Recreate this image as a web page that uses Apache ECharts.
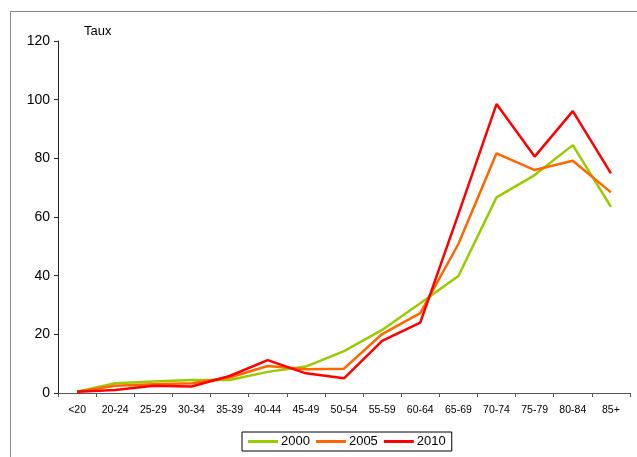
<!DOCTYPE html>
<html>
<head>
<meta charset="utf-8">
<script src="https://cdn.jsdelivr.net/npm/echarts@6/dist/echarts.min.js"></script>
<style>html,body{margin:0;padding:0;background:#fff}#c{width:637px;height:457px}</style>
</head>
<body>
<div id="c"></div>
<script>
var categories = ['<20','20-24','25-29','30-34','35-39','40-44','45-49','50-54','55-59','60-64','65-69','70-74','75-79','80-84','85+'];
var s2000 = [0.4, 3.3, 3.9, 4.4, 4.4, 7.2, 9.0, 14.3, 21.5, 30.6, 39.9, 66.7, 74.3, 84.5, 63.5];
var s2005 = [0.4, 2.5, 3.0, 3.3, 5.3, 9.2, 8.1, 8.3, 20.1, 27.2, 50.8, 81.7, 76.0, 79.2, 68.4];
var s2010 = [0.4, 1.0, 2.5, 2.2, 5.8, 11.2, 6.7, 5.0, 17.8, 24.0, 61.0, 98.5, 80.6, 96.1, 74.9];
var yTicks = [0, 20, 40, 60, 80, 100, 120];
var yName = 'Taux';

var font = 'Liberation Sans';
var chart = echarts.init(document.getElementById('c'), null, {renderer: 'canvas'});
function line(name, data, color) {
  return {
    name: name, type: 'line', data: data, symbol: 'none',
    lineStyle: {color: color, width: 2.5}, itemStyle: {color: color},
    animation: false
  };
}
chart.setOption({
  animation: false,
  graphic: [{
    type: 'rect', silent: true,
    shape: {x: 10.5, y: 11.5, width: 800, height: 600},
    style: {fill: 'none', stroke: '#888', lineWidth: 1}
  }],
  title: {
    text: yName, left: 79, top: 20,
    textStyle: {fontFamily: font, fontSize: 13, fontWeight: 'normal', color: '#000'}
  },
  grid: {left: 58, right: 7, top: 41, bottom: 64, containLabel: false},
  legend: {
    data: ['2000', '2005', '2010'],
    left: 242, top: 432,
    icon: 'rect', itemWidth: 30, itemHeight: 3, itemGap: 6,
    padding: [3, 6],
    borderColor: '#000', borderWidth: 1,
    textStyle: {fontFamily: font, fontSize: 13, color: '#000', padding: [0, 0, 0, -2]}
  },
  xAxis: {
    type: 'category', data: categories, boundaryGap: true,
    axisLine: {lineStyle: {color: '#555', width: 1}},
    axisTick: {show: true, length: 4, lineStyle: {color: '#555'}},
    axisLabel: {fontFamily: font, fontSize: 10.5, color: '#000', margin: 12, interval: 0}
  },
  yAxis: {
    type: 'value', min: yTicks[0], max: yTicks[yTicks.length - 1], interval: 20,
    axisLine: {show: true, lineStyle: {color: '#222', width: 1}},
    axisTick: {show: true, length: 4, lineStyle: {color: '#222'}},
    axisLabel: {fontFamily: font, fontSize: 14, color: '#000', margin: 8},
    splitLine: {show: false}
  },
  series: [
    line('2000', s2000, '#99CC00'),
    line('2005', s2005, '#FF6600'),
    line('2010', s2010, '#FF0000')
  ]
});
</script>
</body>
</html>
